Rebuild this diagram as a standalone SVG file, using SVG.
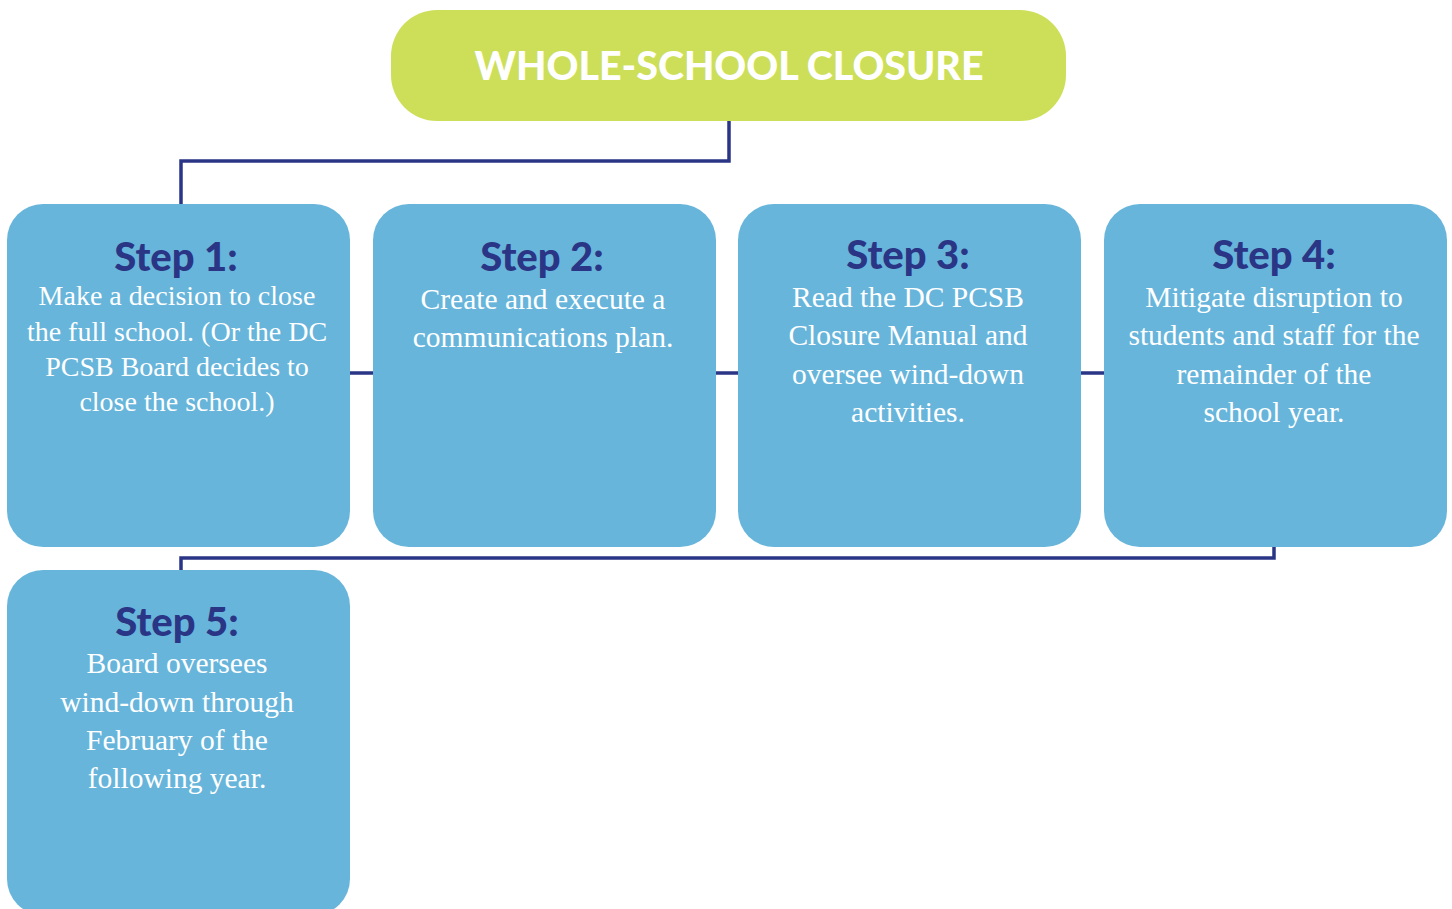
<svg xmlns="http://www.w3.org/2000/svg" width="1452" height="909" viewBox="0 0 1452 909">
<style>
.box{fill:#67B5DB}
.hd{font-family:Lato,"Liberation Sans",sans-serif;font-weight:900;font-size:40px;fill:#2A3585;text-anchor:middle}
.bd{font-family:"Liberation Serif",serif;font-size:29.5px;fill:#FFFFFF;text-anchor:middle}
.sm{font-size:28px}
.ln{fill:none;stroke:#2A3585;stroke-width:3.5}
</style>
<rect width="1452" height="909" fill="#FFFFFF"/>
<g id="connectors">
<path class="ln" d="M729 121 V161 H181 V204"/>
<path class="ln" d="M350 373 H373"/>
<path class="ln" d="M716 373 H738"/>
<path class="ln" d="M1081 373 H1104"/>
<path class="ln" d="M1274 547 V558 H181 V570"/>
</g>
<g id="title">
<rect x="391" y="10" width="675" height="111" rx="46" fill="#CDDF59"/>
<text x="729" y="80" font-family="Lato,'Liberation Sans',sans-serif" font-weight="900" font-size="40" fill="#FFFFFF" text-anchor="middle" textLength="509" lengthAdjust="spacingAndGlyphs">WHOLE-SCHOOL CLOSURE</text>
</g>
<g id="step1">
<rect class="box" x="7" y="204" width="343" height="343" rx="36"/>
<text class="hd" x="176" y="271">Step 1:</text>
<text class="bd sm" x="177" y="305">Make a decision to close</text>
<text class="bd sm" x="177" y="341">the full school. (Or the DC</text>
<text class="bd sm" x="177" y="376">PCSB Board decides to</text>
<text class="bd sm" x="177" y="411">close the school.)</text>
</g>
<g id="step2">
<rect class="box" x="373" y="204" width="343" height="343" rx="36"/>
<text class="hd" x="542" y="271">Step 2:</text>
<text class="bd" x="543" y="309">Create and execute a</text>
<text class="bd" x="543" y="347">communications plan.</text>
</g>
<g id="step3">
<rect class="box" x="738" y="204" width="343" height="343" rx="36"/>
<text class="hd" x="908" y="269">Step 3:</text>
<text class="bd" x="908" y="307">Read the DC PCSB</text>
<text class="bd" x="908" y="345">Closure Manual and</text>
<text class="bd" x="908" y="384">oversee wind-down</text>
<text class="bd" x="908" y="422">activities.</text>
</g>
<g id="step4">
<rect class="box" x="1104" y="204" width="343" height="343" rx="36"/>
<text class="hd" x="1274" y="269">Step 4:</text>
<text class="bd" x="1274" y="307">Mitigate disruption to</text>
<text class="bd" x="1274" y="345">students and staff for the</text>
<text class="bd" x="1274" y="384">remainder of the</text>
<text class="bd" x="1274" y="422">school year.</text>
</g>
<g id="step5">
<rect class="box" x="7" y="570" width="343" height="345" rx="36"/>
<text class="hd" x="177" y="636">Step 5:</text>
<text class="bd" x="177" y="673">Board oversees</text>
<text class="bd" x="177" y="712">wind-down through</text>
<text class="bd" x="177" y="750">February of the</text>
<text class="bd" x="177" y="788">following year.</text>
</g>
</svg>
